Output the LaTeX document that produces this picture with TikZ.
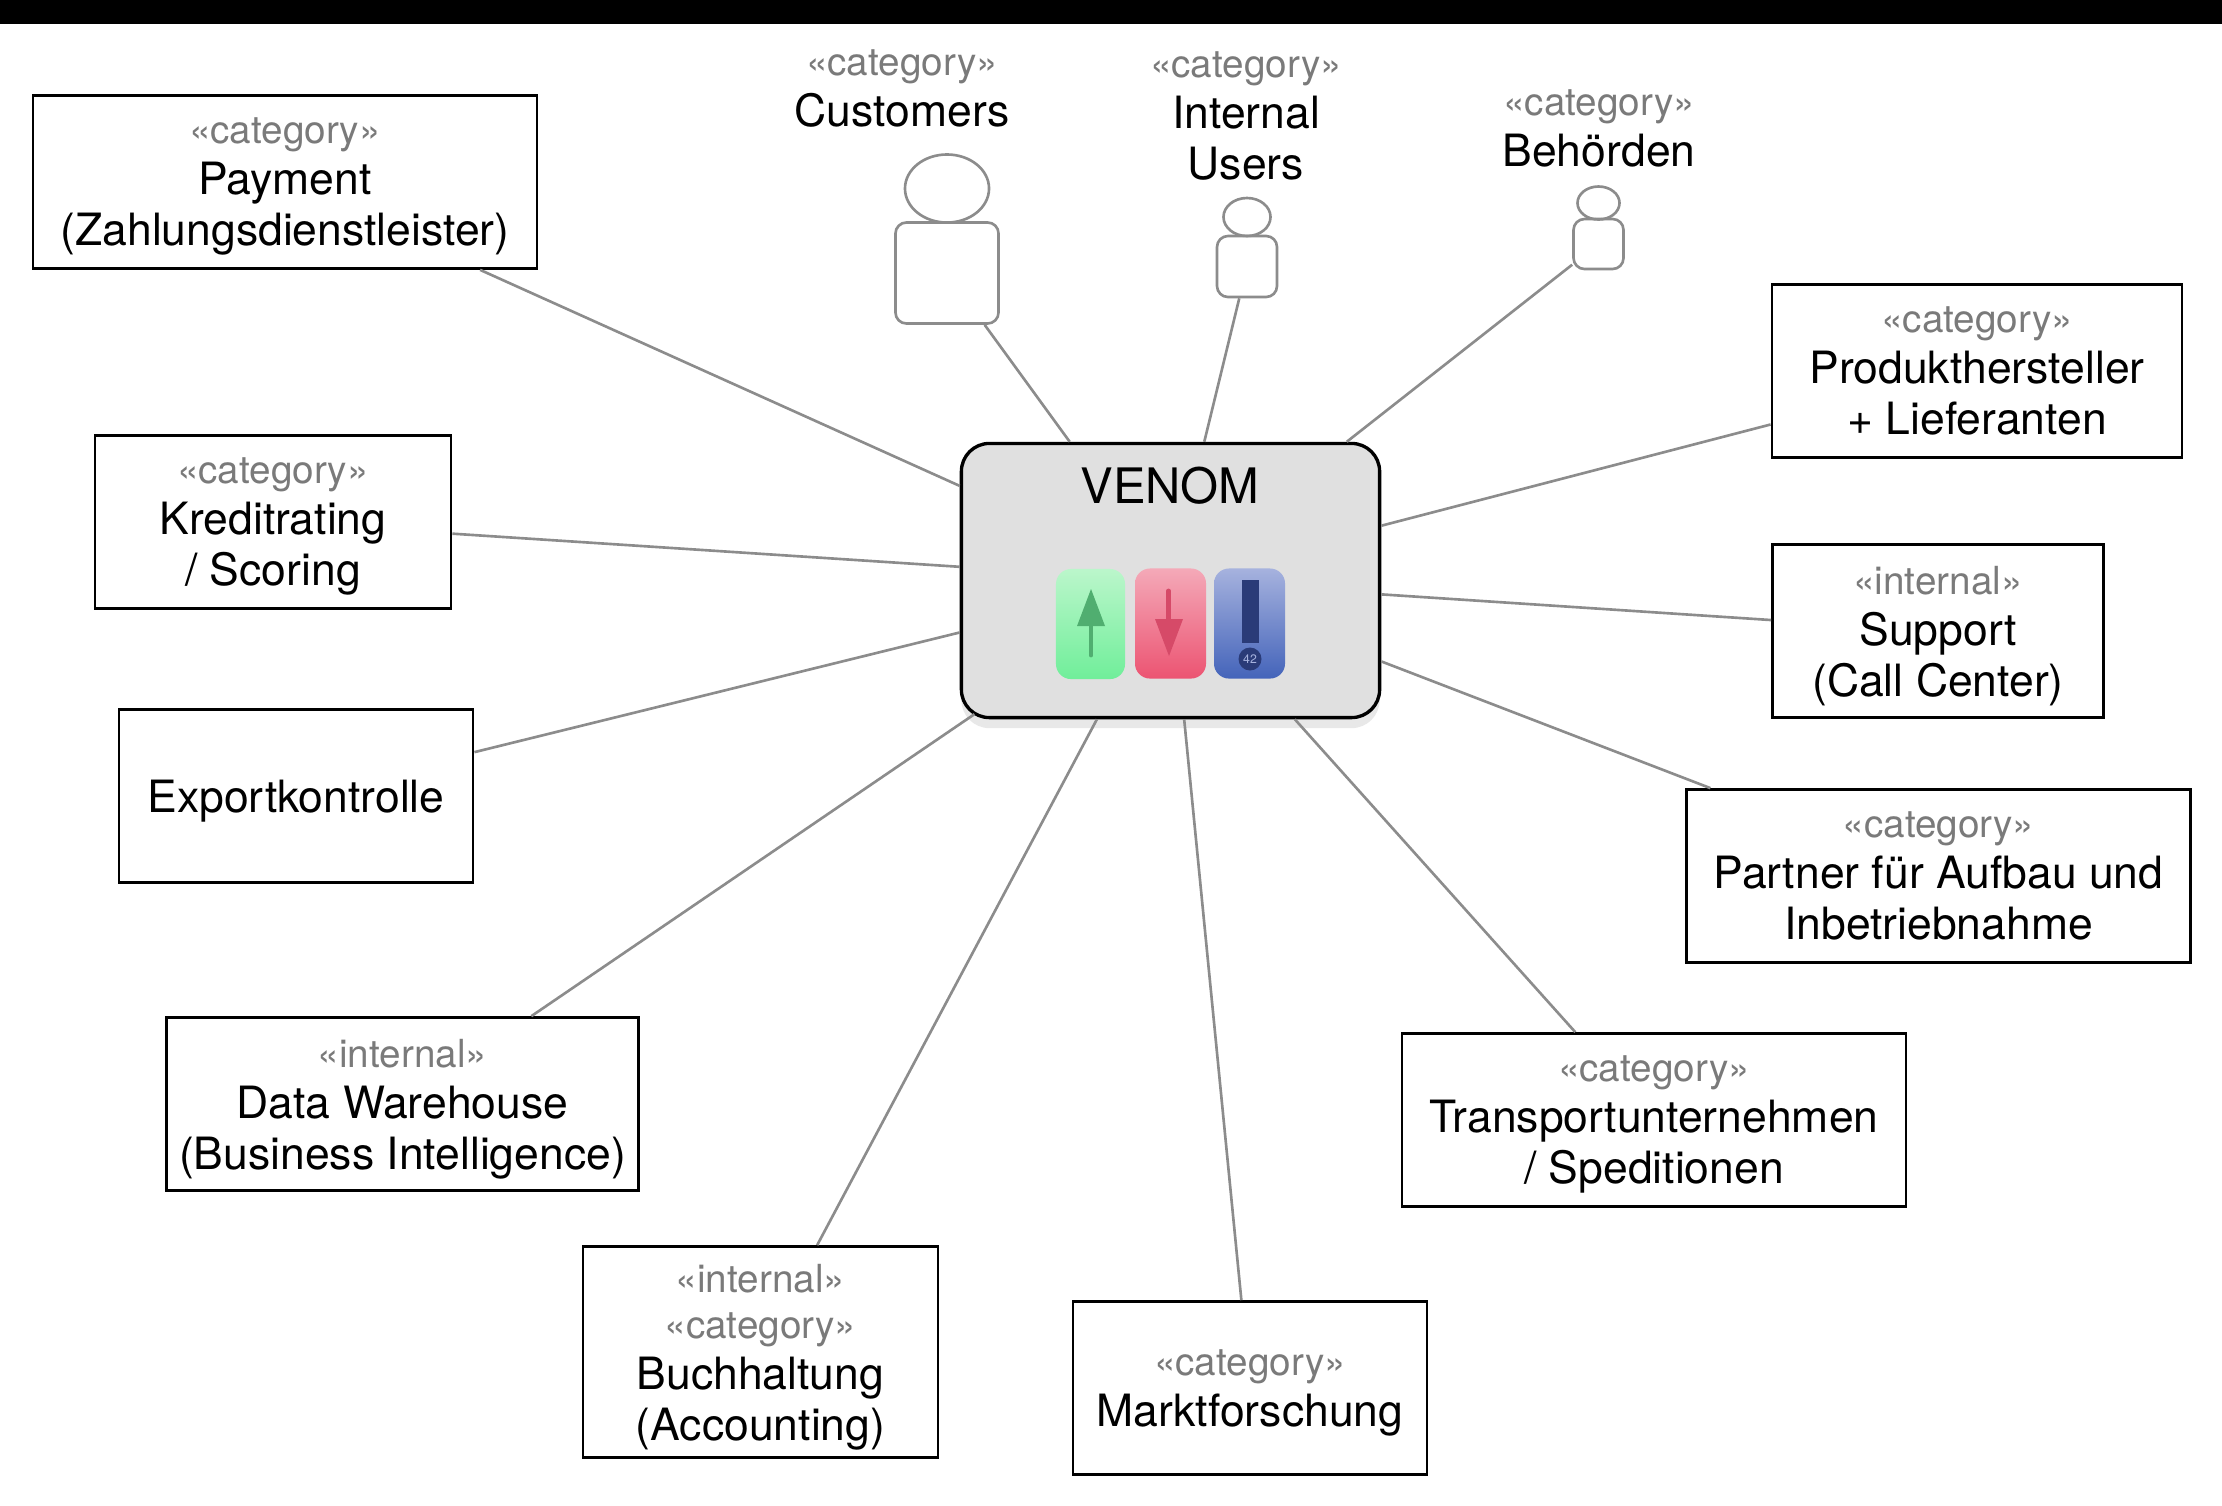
\documentclass[tikz,border=0pt]{standalone}
\usepackage{fontspec}
\setmainfont{TeX Gyre Heros}
\usetikzlibrary{shapes.geometric,shadows}

\definecolor{linkgray}{HTML}{8C8C8C}
\definecolor{stereogray}{HTML}{7A7A7A}
\definecolor{venomfill}{HTML}{E0E0E0}
\definecolor{uptop}{HTML}{BBF6CB}
\definecolor{upbottom}{HTML}{70EE9A}
\definecolor{updark}{HTML}{50AE70}
\definecolor{downtop}{HTML}{F4A9B8}
\definecolor{downbottom}{HTML}{EC5472}
\definecolor{downdark}{HTML}{D64A68}
\definecolor{alerttop}{HTML}{A6B2DE}
\definecolor{alertbottom}{HTML}{4464BA}
\definecolor{alertdark}{HTML}{2A3B78}
\definecolor{alertlight}{HTML}{A6B2DE}

\newcommand{\stereo}[2][0pt]{{\color{stereogray}\fontsize{11}{13.6}\selectfont «#2»}\\[#1]}

\begin{document}
\begin{tikzpicture}[
        x=0.01cm,
        y=-0.01cm,
        box/.style={
            draw=black,
            fill=white,
            line width=0.75pt,
            minimum height=1.73cm,
            inner sep=0pt,
            align=center,
            text depth=0pt,
            font=\fontsize{12.65}{14.5}\selectfont
        },
        label/.style={
            inner sep=0pt,
            align=center,
            font=\fontsize{12.65}{14.5}\selectfont
        },
        head/.style={
            ellipse,
            draw=linkgray,
            line width=0.75pt,
            inner sep=0pt
        },
        body/.style={
            draw=linkgray,
            line width=0.75pt,
            rounded corners=0.11cm,
            inner sep=0pt
        },
        icon/.style={
            rounded corners=0.15cm,
            minimum height=1.10cm,
            inner sep=0pt
        },
        link/.style={
            draw=linkgray,
            line width=0.75pt
        }
    ]
    \useasboundingbox (0,0) rectangle (2222,1505);
    \fill[black] (0,0) rectangle (2222,24);

    % Hub
    \node[draw=black, fill=venomfill, line width=0.95pt, rounded corners=0.28cm,
          minimum width=4.18cm, minimum height=2.74cm, inner sep=0pt,
          drop shadow={shadow xshift=0pt, shadow yshift=-3pt, opacity=0.18}]
          (venom) at (1170.5,580.5) {};
    \node[inner sep=0pt, font=\fontsize{13.9}{17}\selectfont] (venomlabel) at (1170,486) {VENOM};

    % Boxes
    \node[box, minimum width=5.04cm] (payment)     at (285,182)   {\stereo{category}Payment\\(Zahlungsdienstleister)};
    \node[box, minimum width=3.56cm] (kredit)      at (273,522)   {\stereo{category}Kreditrating\\/ Scoring};
    \node[box, minimum width=3.54cm] (export)      at (296,796)   {Exportkontrolle};
    \node[box, minimum width=4.72cm] (warehouse)   at (402.5,1104)  {\stereo{internal}Data Warehouse\\(Business Intelligence)};
    \node[box, minimum width=3.55cm, minimum height=2.11cm] (buchhaltung) at (760.5,1352)
        {\stereo[-1.4pt]{internal}\stereo{category}Buchhaltung\\(Accounting)};
    \node[box, minimum width=3.54cm] (markt)       at (1250,1388) {\stereo{category}Marktforschung};
    \node[box, minimum width=5.04cm] (transport)   at (1654,1120) {\stereo{category}Transportunternehmen\\/ Speditionen};
    \node[box, minimum width=5.04cm] (partner)     at (1938.5,876)  {\stereo{category}Partner für Aufbau und\\Inbetriebnahme};
    \node[box, minimum width=3.31cm] (support)     at (1938,631)  {\stereo{internal}Support\\(Call Center)};
    \node[box, minimum width=4.10cm] (produkt)     at (1977,371)  {\stereo{category}Produkthersteller\\+ Lieferanten};

    % Actors
    \node[head, minimum width=0.84cm, minimum height=0.68cm] (customershead) at (947,188.5) {};
    \node[body, minimum width=1.03cm, minimum height=1.01cm] (customers) at (947,273) {};
    \node[label] (customerslabel) at (902,88) {\stereo{category}Customers};

    \node[head, minimum width=0.47cm, minimum height=0.38cm] (internalhead) at (1247,217) {};
    \node[body, minimum width=0.60cm, minimum height=0.61cm] (internalusers) at (1247,266.5) {};
    \node[label] (internallabel) at (1246,116) {\stereo{category}Internal\\Users};

    \node[head, minimum width=0.42cm, minimum height=0.33cm] (behoerdenhead) at (1598.5,203) {};
    \node[body, minimum width=0.50cm, minimum height=0.50cm] (behoerden) at (1598.5,244) {};
    \node[label] (behoerdenlabel) at (1599,128.5) {\stereo{category}Behörden};

    % Icons
    \node[icon, shade, top color=uptop, bottom color=upbottom,
          minimum width=0.69cm] (iconup) at (1090.5,624) {};
    \node[icon, shade, top color=downtop, bottom color=downbottom,
          minimum width=0.71cm] (icondown) at (1170.5,623.5) {};
    \node[icon, shade, top color=alerttop, bottom color=alertbottom,
          minimum width=0.71cm] (iconalert) at (1249.5,623.5) {};

    \fill[updark] (1091,589) -- (1105,626) -- (1077,626) -- cycle;
    \draw[updark, line width=1.4pt, line cap=round] (1091,626) -- (1091,655);
    \fill[downdark] (1169,656) -- (1183,619) -- (1155,619) -- cycle;
    \draw[downdark, line width=1.4pt, line cap=round] (1168.5,591) -- (1168.5,619);
    \fill[alertdark] (1242,580) rectangle (1259,643);
    \node[circle, fill=alertdark, minimum size=0.23cm, inner sep=0pt,
          text=alertlight, font=\fontsize{3.5}{4}\selectfont] (alertcount) at (1250,659) {42};

    % Links
    \draw[link] (venom) -- (payment);
    \draw[link] (venom) -- (kredit);
    \draw[link] (venom) -- (export);
    \draw[link, shorten <=-0.09cm] (venom) -- (warehouse);
    \draw[link] (venom) -- (buchhaltung);
    \draw[link] (venom) -- (markt);
    \draw[link] (venom) -- (transport);
    \draw[link] (venom) -- (partner);
    \draw[link] (venom) -- (support);
    \draw[link] (venom) -- (produkt);
    \draw[link] (venom) -- (customers);
    \draw[link] (venom) -- (internalusers);
    \draw[link] (venom) -- (behoerden);

\end{tikzpicture}
\end{document}
